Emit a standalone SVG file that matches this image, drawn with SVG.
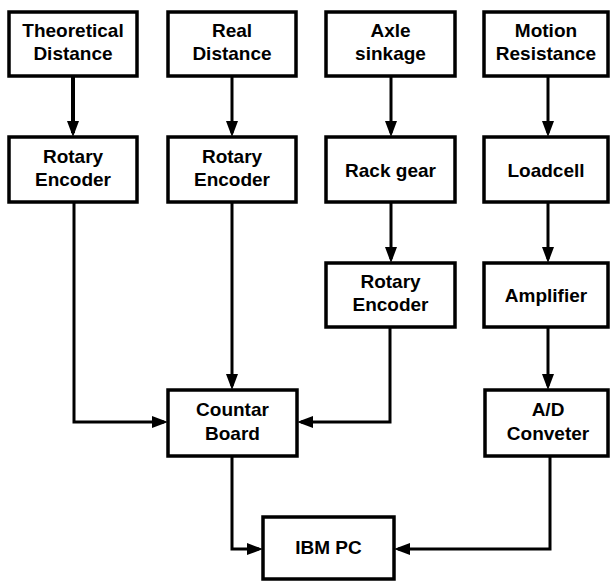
<svg xmlns="http://www.w3.org/2000/svg" width="611" height="581" viewBox="0 0 611 581">
<style>
.box{fill:#fff;stroke:#000;stroke-width:3.5}
.t{font-family:"Liberation Sans",Arial,sans-serif;font-weight:bold;font-size:19px;fill:#000;text-anchor:middle}
.c{fill:none;stroke:#000;stroke-width:3;stroke-linejoin:miter}
</style>
<defs>
<marker id="ah" viewBox="0 0 16 12" refX="12" refY="6" markerWidth="16" markerHeight="12" markerUnits="userSpaceOnUse" orient="auto">
<path d="M0,0 L16,6 L0,12 z" fill="#000"/>
</marker>
</defs>
<rect width="611" height="581" fill="#fff"/>
<g id="connectors">
<path class="c" style="stroke-width:4" d="M73,76 V133" marker-end="url(#ah)"/>
<path class="c" d="M232,76 V133" marker-end="url(#ah)"/>
<path class="c" d="M391,76 V133" marker-end="url(#ah)"/>
<path class="c" d="M548,76 V133" marker-end="url(#ah)"/>
<path class="c" d="M74,202 V422 H164" marker-end="url(#ah)"/>
<path class="c" d="M232,202 V386" marker-end="url(#ah)"/>
<path class="c" d="M391,202 V259" marker-end="url(#ah)"/>
<path class="c" d="M390,327 V422 H301" marker-end="url(#ah)"/>
<path class="c" d="M548,202 V259" marker-end="url(#ah)"/>
<path class="c" d="M548,327 V386" marker-end="url(#ah)"/>
<path class="c" d="M232,456 V549 H259" marker-end="url(#ah)"/>
<path class="c" d="M550,456 V549 H398" marker-end="url(#ah)"/>
</g>
<g id="theoretical-distance"><rect class="box" x="9" y="12" width="128" height="64"/><text class="t" x="73" y="37">Theoretical</text><text class="t" x="73" y="60">Distance</text></g>
<g id="real-distance"><rect class="box" x="168" y="12" width="128" height="64"/><text class="t" x="232" y="37">Real</text><text class="t" x="232" y="60">Distance</text></g>
<g id="axle-sinkage"><rect class="box" x="326" y="12" width="129" height="64"/><text class="t" x="390.5" y="37">Axle</text><text class="t" x="390.5" y="60">sinkage</text></g>
<g id="motion-resistance"><rect class="box" x="484" y="12" width="124" height="64"/><text class="t" x="546" y="37">Motion</text><text class="t" x="546" y="60">Resistance</text></g>
<g id="rotary-encoder-1"><rect class="box" x="9" y="137" width="128" height="65"/><text class="t" x="73" y="163">Rotary</text><text class="t" x="73" y="186">Encoder</text></g>
<g id="rotary-encoder-2"><rect class="box" x="168" y="137" width="128" height="65"/><text class="t" x="232" y="163">Rotary</text><text class="t" x="232" y="186">Encoder</text></g>
<g id="rack-gear"><rect class="box" x="326" y="137" width="129" height="65"/><text class="t" x="390.5" y="177">Rack gear</text></g>
<g id="loadcell"><rect class="box" x="484" y="137" width="124" height="65"/><text class="t" x="546" y="177">Loadcell</text></g>
<g id="rotary-encoder-3"><rect class="box" x="326" y="263" width="129" height="64"/><text class="t" x="390.5" y="288">Rotary</text><text class="t" x="390.5" y="311">Encoder</text></g>
<g id="amplifier"><rect class="box" x="484" y="263" width="124" height="64"/><text class="t" x="546" y="302">Amplifier</text></g>
<g id="countar-board"><rect class="box" x="168" y="390" width="129" height="66"/><text class="t" x="232.5" y="416">Countar</text><text class="t" x="232.5" y="440">Board</text></g>
<g id="ad-conveter"><rect class="box" x="485" y="390" width="123" height="66"/><text class="t" x="548" y="416">A/D</text><text class="t" x="548" y="440">Conveter</text></g>
<g id="ibm-pc"><rect class="box" x="263" y="517" width="131" height="62"/><text class="t" x="328.5" y="554">IBM PC</text></g>
</svg>
